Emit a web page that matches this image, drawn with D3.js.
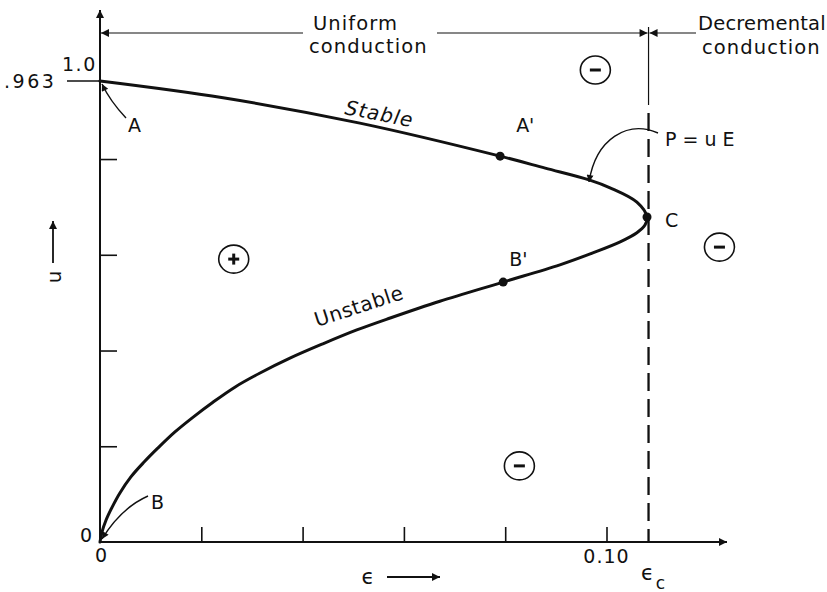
<!DOCTYPE html>
<html>
<head>
<meta charset="utf-8">
<script src="https://cdn.jsdelivr.net/npm/d3@7"></script>
<style>
  html, body { margin: 0; padding: 0; background: #fff; }
  svg { display: block; }
  text { font-family: "DejaVu Sans", sans-serif; fill: #111; }
</style>
</head>
<body>
<svg id="chart" width="827" height="592"></svg>
<script>
// Axis ticks
const epsTicks = [0.02, 0.04, 0.06, 0.08, 0.10];
const uTicks = [0.2, 0.4, 0.6, 0.8];

// Steady-state curve u(ϵ), traced from B (origin) round the nose C to A
const curveEps = [0, 0.0004, 0.0012, 0.0024, 0.0039, 0.0061, 0.0087, 0.0114, 0.0148,
                  0.0184, 0.0223, 0.0267, 0.0316, 0.0375, 0.0440, 0.0507, 0.0573,
                  0.0671, 0.0796, 0.0908, 0.0973, 0.1027, 0.1060, 0.1076, 0.1080,
                  0.1060, 0.1007, 0.0967, 0.0879, 0.0790, 0.0513, 0.0243, 0];
const curveU   = [0, 0.021, 0.046, 0.073, 0.102, 0.136, 0.167, 0.196, 0.230,
                  0.261, 0.292, 0.324, 0.353, 0.384, 0.414, 0.443, 0.468,
                  0.503, 0.543, 0.579, 0.604, 0.627, 0.646, 0.662, 0.679,
                  0.710, 0.740, 0.756, 0.781, 0.806, 0.875, 0.928, 0.963];

// Marked points on the curve
const pointLabels = ["A'", "B'", "C"];
const pointEps = [0.0790, 0.0796, 0.1080];
const pointU   = [0.806, 0.543, 0.679];

// Sign of the region
const regionSigns = ["+", "−", "−", "−"];
const regionEps = [0.0264, 0.0978, 0.1223, 0.0828];
const regionU   = [0.591, 0.986, 0.616, 0.159];

const uA = 0.963;      // value at A
const epsC = 0.1083;   // critical ϵ

const svg = d3.select("#chart");
const ink = "#111";

const x = d3.scaleLinear().domain([0, 0.1]).range([100, 606.5]);
const y = d3.scaleLinear().domain([0, 1]).range([542, 63.3]);

// arrowheads
const defs = svg.append("defs");
function marker(id, w, h) {
  defs.append("marker")
    .attr("id", id).attr("viewBox", "0 0 10 10")
    .attr("refX", 10).attr("refY", 5)
    .attr("markerUnits", "userSpaceOnUse")
    .attr("markerWidth", w).attr("markerHeight", h)
    .attr("orient", "auto")
    .append("path").attr("d", "M0,0 L10,5 L0,10 Z").attr("fill", ink);
}
marker("big", 16, 8);
marker("small", 11, 7);

// axes lines with arrow tips
svg.append("line").attr("x1", x(0)).attr("y1", y(0)).attr("x2", x(0)).attr("y2", 10)
  .attr("stroke", ink).attr("stroke-width", 2).attr("marker-end", "url(#big)");
svg.append("line").attr("x1", x(0)).attr("y1", y(0)).attr("x2", 727).attr("y2", y(0))
  .attr("stroke", ink).attr("stroke-width", 2).attr("marker-end", "url(#big)");

// ticks
const gx = svg.append("g").attr("transform", `translate(0,${y(0)})`)
  .call(d3.axisBottom(x).tickValues(epsTicks).tickSize(-15).tickFormat(""));
gx.select(".domain").remove();
gx.selectAll(".tick line").attr("stroke", ink).attr("stroke-width", 1.6);

const gy = svg.append("g").attr("transform", `translate(${x(0)},0)`)
  .call(d3.axisLeft(y).tickValues(uTicks).tickSize(-17).tickFormat(""));
gy.select(".domain").remove();
gy.selectAll(".tick line").attr("stroke", ink).attr("stroke-width", 1.6);

// .963 level mark
svg.append("line").attr("x1", 67).attr("x2", x(0)).attr("y1", y(uA)).attr("y2", y(uA))
  .attr("stroke", ink).attr("stroke-width", 1.6);

// text helper
function label(t, px, py, opts = {}) {
  const el = svg.append("text").attr("x", px).attr("y", py).text(t);
  Object.entries(Object.assign({ "font-size": 19 }, opts)).forEach(([k, v]) => el.attr(k, v));
  return el;
}

// tick labels
label("1.0", 62, y(1) + 7.5, { "letter-spacing": 1.5 });
label(".963", 4, y(uA) + 6.5, { "letter-spacing": 2.5 });
label("0", 86, y(0), { "text-anchor": "middle" });
label("0", x(0) + 1, y(0) + 20, { "text-anchor": "middle" });
label("0.10", x(0.1), y(0) + 21, { "text-anchor": "middle", "letter-spacing": 1 });
label("ϵ", x(epsC) - 1, y(0) + 38, { "text-anchor": "middle", "font-size": 21 });
label("c", x(epsC) + 12, y(0) + 47, { "text-anchor": "middle", "font-size": 17 });

// axis names
label("ϵ", 368, 584, { "text-anchor": "middle", "font-size": 21 });
svg.append("line").attr("x1", 387).attr("x2", 440).attr("y1", 577).attr("y2", 577)
  .attr("stroke", ink).attr("stroke-width", 1.8).attr("marker-end", "url(#big)");
svg.append("text").attr("transform", "translate(61,277) rotate(-90)")
  .attr("text-anchor", "middle").attr("font-size", 20).text("u");
svg.append("line").attr("x1", 53).attr("x2", 53).attr("y1", 263).attr("y2", 221)
  .attr("stroke", ink).attr("stroke-width", 1.8).attr("marker-end", "url(#big)");

// ϵc boundary: thin solid above, dashed below
svg.append("line").attr("x1", x(epsC)).attr("x2", x(epsC)).attr("y1", 27).attr("y2", 105)
  .attr("stroke", ink).attr("stroke-width", 1.2);
svg.append("line").attr("x1", x(epsC)).attr("x2", x(epsC)).attr("y1", 113).attr("y2", y(0))
  .attr("stroke", ink).attr("stroke-width", 2.3).attr("stroke-dasharray", "18,8");

// conduction ranges
const topY = 33;
svg.append("line").attr("x1", 303).attr("x2", x(0) + 1).attr("y1", topY).attr("y2", topY)
  .attr("stroke", ink).attr("stroke-width", 1.2).attr("marker-end", "url(#big)");
svg.append("line").attr("x1", 437).attr("x2", x(epsC) - 1).attr("y1", topY).attr("y2", topY)
  .attr("stroke", ink).attr("stroke-width", 1.2).attr("marker-end", "url(#big)");
svg.append("line").attr("x1", 696).attr("x2", x(epsC) + 1).attr("y1", topY).attr("y2", topY)
  .attr("stroke", ink).attr("stroke-width", 1.2).attr("marker-end", "url(#big)");
const head = { "font-size": 19.5, "letter-spacing": 1.1 };
label("Uniform", 313, 29.5, head);
label("conduction", 309, 53, head);
label("Decremental", 698, 30, { "font-size": 19.5, "letter-spacing": 0.2 });
label("conduction", 702, 53.5, head);

// the curve
const pts = curveEps.map((e, i) => [e, curveU[i]]);
const line = d3.line().x(d => x(d[0])).y(d => y(d[1])).curve(d3.curveCatmullRom.alpha(0.5));
svg.append("path").datum(pts).attr("d", line)
  .attr("fill", "none").attr("stroke", ink).attr("stroke-width", 3)
  .attr("stroke-linejoin", "round").attr("stroke-linecap", "round");

// branch names
svg.append("text").attr("transform", "translate(344,114) rotate(11)")
  .attr("font-size", 20).attr("font-style", "italic").attr("letter-spacing", 1).text("Stable");
svg.append("text").attr("transform", "translate(317,327) rotate(-18)")
  .attr("font-size", 20).attr("letter-spacing", 0.5).text("Unstable");

// marked points
const labelOffset = { "A'": [16, -24], "B'": [6, -16], "C": [18, 10] };
pointLabels.forEach((l, i) => {
  const px = x(pointEps[i]), py = y(pointU[i]);
  svg.append("circle").attr("cx", px).attr("cy", py).attr("r", 4.5).attr("fill", ink);
  label(l, px + labelOffset[l][0], py + labelOffset[l][1]);
});

// end point labels with leaders
label("A", 128, 132);
svg.append("path").attr("d", `M126,118 Q110,101 ${x(0) + 2},${y(uA) + 3}`)
  .attr("fill", "none").attr("stroke", ink).attr("stroke-width", 1.4).attr("marker-end", "url(#small)");
label("B", 151, 509);
svg.append("path").attr("d", `M148,496 Q121,508 ${x(0) + 2},${y(0) - 3}`)
  .attr("fill", "none").attr("stroke", ink).attr("stroke-width", 1.4).attr("marker-end", "url(#small)");
label("P = u E", 665, 146);
svg.append("path").attr("d", "M658,133 C628,120 596,138 589,182")
  .attr("fill", "none").attr("stroke", ink).attr("stroke-width", 1.4).attr("marker-end", "url(#small)");

// region signs
regionSigns.forEach((s, i) => {
  const cx = x(regionEps[i]), cy = y(regionU[i]);
  svg.append("ellipse").attr("cx", cx).attr("cy", cy).attr("rx", 15).attr("ry", 14)
    .attr("fill", "none").attr("stroke", ink).attr("stroke-width", 1.6);
  svg.append("line").attr("x1", cx - 5.5).attr("x2", cx + 5.5).attr("y1", cy).attr("y2", cy)
    .attr("stroke", ink).attr("stroke-width", 3);
  if (s === "+") {
    svg.append("line").attr("x1", cx).attr("x2", cx).attr("y1", cy - 5.5).attr("y2", cy + 5.5)
      .attr("stroke", ink).attr("stroke-width", 3);
  }
});
</script>
</body>
</html>
